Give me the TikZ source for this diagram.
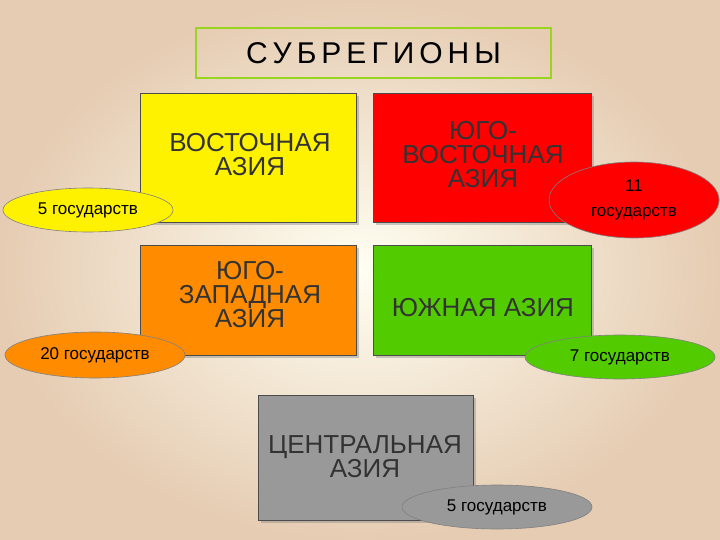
\documentclass[tikz,border=0pt]{standalone}
\usepackage{fontspec}
\setmainfont{Liberation Sans}
\usetikzlibrary{shapes.geometric,shadows}
\begin{document}
\begin{tikzpicture}[x=1pt,y=-1pt,
 box/.style={draw=black!70,line width=0.8pt,drop shadow={shadow xshift=3pt,shadow yshift=-3pt,opacity=0.4}},
 btxt/.style={align=center,font=\fontsize{26}{24}\selectfont,text=black!80},
 ell/.style={ellipse,draw=black!50,line width=0.6pt,inner sep=0pt,font=\fontsize{17}{17}\selectfont}]
\shade[inner color=white!95!yellow,outer color=brown!40!white] (0,0) rectangle (720,540);
\useasboundingbox (0,0) rectangle (720,540);
\node[draw=yellow!60!green,line width=1.5pt,minimum width=355pt,minimum height=50pt,font=\fontsize{30}{30}\selectfont] (title) at (373.5,53) {С\hspace{5pt}У\hspace{5pt}Б\hspace{5pt}Р\hspace{5pt}Е\hspace{5pt}Г\hspace{5pt}И\hspace{5pt}О\hspace{5pt}Н\hspace{5pt}Ы};
\filldraw[box,fill=yellow] (140,93) rectangle (356,222);
\filldraw[box,fill=red] (373,93) rectangle (591,222);
\filldraw[box,fill=orange!90!yellow] (140,245) rectangle (356,355);
\filldraw[box,fill=green!60!yellow!80!black] (373,245) rectangle (591,355);
\filldraw[box,fill=black!40] (258,395) rectangle (473,520);
\node[btxt] (t1) at (250,155) {ВОСТОЧНАЯ\\АЗИЯ};
\node[btxt] (t2) at (483,155) {ЮГО-\\ВОСТОЧНАЯ\\АЗИЯ};
\node[btxt] (t3) at (250,295) {ЮГО-\\ЗАПАДНАЯ\\АЗИЯ};
\node[btxt] (t4) at (483,308) {ЮЖНАЯ АЗИЯ};
\node[btxt] (t5) at (365,457) {ЦЕНТРАЛЬНАЯ\\АЗИЯ};
\node[ell,fill=yellow,minimum width=170pt,minimum height=44pt] (e1) at (88,210) {5 государств};
\node[ell,fill=red,minimum width=170pt,minimum height=76pt,align=center] (e2) at (634,200) {11\\[8pt]государств};
\node[ell,fill=orange!90!yellow,minimum width=180pt,minimum height=46pt] (e3) at (95,355) {20 государств};
\node[ell,fill=green!60!yellow!80!black,minimum width=190pt,minimum height=44pt] (e4) at (620,357) {7 государств};
\node[ell,fill=black!40,minimum width=190pt,minimum height=44pt] (e5) at (497,507) {5 государств};
\end{tikzpicture}
\end{document}
